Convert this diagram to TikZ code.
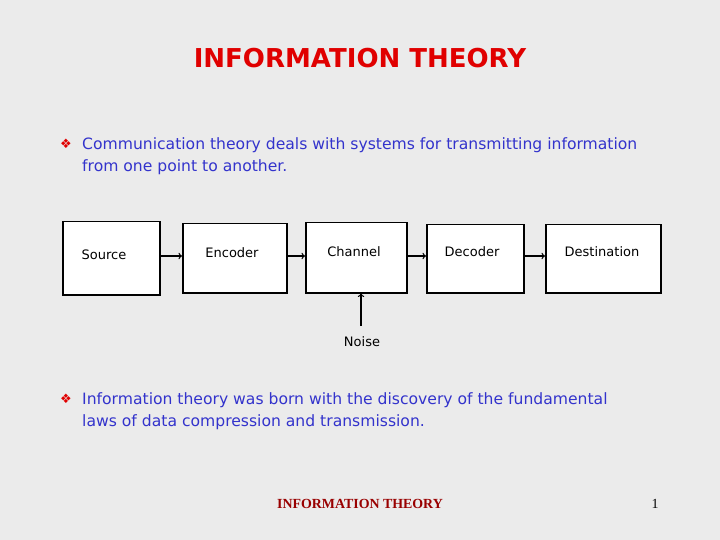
\documentclass[tikz,border=0pt]{standalone}
\usepackage{fontspec}
\setmainfont{Liberation Serif}
\newfontfamily\slidefont{DejaVu Sans}
\usetikzlibrary{arrows,positioning}
\definecolor{slidebg}{HTML}{EBEBEB}
\definecolor{bodyblue}{HTML}{3333CC}
\definecolor{titlered}{HTML}{E00000}
\definecolor{footred}{HTML}{990000}
\tikzset{
  blockbox/.style={draw,line width=1.5pt,fill=white,anchor=north west},
  blocklabel/.style={font=\slidefont\fontsize{13}{15}\selectfont},
  flow/.style={-{to[scale=1.6]},line width=1.3pt},
  bodytext/.style={anchor=west,align=left,text=bodyblue,font=\slidefont\fontsize{15.6}{22}\selectfont,inner sep=0pt}
}
\usetikzlibrary{arrows.meta}
\begin{document}
\begin{tikzpicture}[x=1pt,y=-1pt]
  \fill[slidebg] (0,0) rectangle (720,540);
  \useasboundingbox (0,0) rectangle (720,540);
  \node[font=\slidefont\bfseries\fontsize{26}{30}\selectfont,text=titlered](title)at(360,58){INFORMATION THEORY};
  % bullets
  \node[text=titlered,font=\slidefont\fontsize{13}{15}\selectfont](b1)at(66,144){❖};
  \node[bodytext](t1)at(82,156){Communication theory deals with systems for transmitting information\\from one point to another.};
  \node[text=titlered,font=\slidefont\fontsize{13}{15}\selectfont](b2)at(66,399){❖};
  \node[bodytext](t2)at(82,411){Information theory was born with the discovery of the fundamental\\laws of data compression and transmission.};
  % blocks
  \node[blockbox,minimum width=97,minimum height=73](src)at(62,221){};
  \node[blocklabel](srct)at(104,255){Source};
  \node[blockbox,minimum width=104,minimum height=69](enc)at(182,223){};
  \node[blocklabel](enct)at(232,253){Encoder};
  \node[blockbox,minimum width=101,minimum height=70](chn)at(305,222){};
  \node[blocklabel](chnt)at(354,252){Channel};
  \node[blockbox,minimum width=97,minimum height=68](dec)at(426,224){};
  \node[blocklabel](dect)at(472,252){Decoder};
  \node[blockbox,minimum width=115,minimum height=68](dst)at(545,224){};
  \node[blocklabel](dstt)at(602,252){Destination};
  \node[blocklabel](noise)at(362,342){Noise};
  \coordinate(nz)at(361,326);
  % connectors
  \draw[flow](src.east|-0,256)--(enc.west|-0,256);
  \draw[flow](enc.east|-0,256)--(chn.west|-0,256);
  \draw[flow](chn.east|-0,256)--(dec.west|-0,256);
  \draw[flow](dec.east|-0,256)--(dst.west|-0,256);
  \draw[flow](nz)--(nz|-chn.south);
  % footer
  \node[font=\bfseries\fontsize{13.9}{16}\selectfont,text=footred](foot)at(360,504){INFORMATION THEORY};
  \node[font=\fontsize{13.9}{16}\selectfont](page)at(655,504){1};
\end{tikzpicture}
\end{document}
